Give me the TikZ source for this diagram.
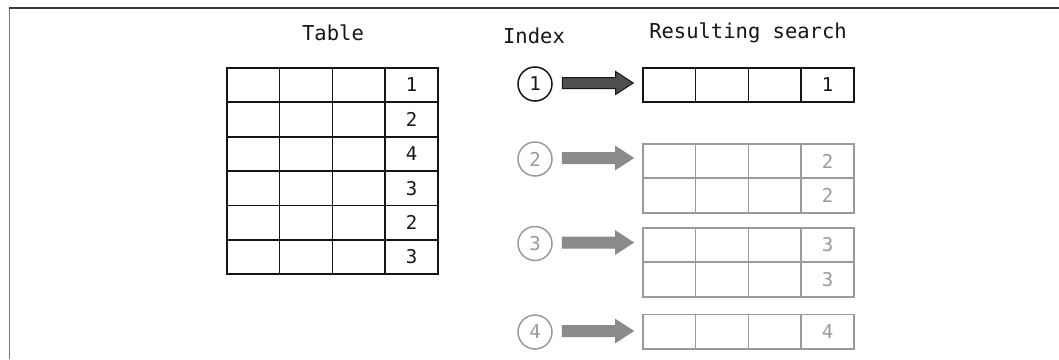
\documentclass[tikz,border=0pt]{standalone}
\usepackage{fontspec}
\newfontfamily\mono{DejaVu Sans Mono}
\usetikzlibrary{shapes.arrows,calc}
\definecolor{lightline}{HTML}{9A9A9A}
\definecolor{darkline}{HTML}{151515}
\definecolor{greyarrow}{HTML}{8A8A8A}
\definecolor{darkarrow}{HTML}{4F4F4F}
\definecolor{frametop}{HTML}{3A3A3A}
\definecolor{frameleft}{HTML}{7A7A7A}
\begin{document}
\begin{tikzpicture}[x=1pt,y=-1pt,
  cell/.style={draw=#1, text=#1, line width=1.7pt, minimum width=52.75pt,
    minimum height=34.4pt, inner sep=0pt, anchor=north west,
    font=\mono\fontsize{19}{19}\selectfont},
  title/.style={font=\mono\fontsize{20.5}{20.5}\selectfont, text=darkline, inner sep=0pt},
  idx/.style={circle, draw=#1, text=#1, line width=1.5pt, minimum size=34pt,
    inner sep=0pt, font=\mono\fontsize{19}{19}\selectfont},
  harrow/.style 2 args={single arrow, draw=#1, fill=#2, line width=1pt,
    minimum height=71pt, minimum width=22pt, inner xsep=0pt, inner ysep=5pt,
    single arrow head extend=6pt, single arrow tip angle=66, anchor=tail}
]
\useasboundingbox (0,0) rectangle (1059,359);
% frame
\draw[frameleft, line width=1.6pt] (9.5,359) -- (9.5,8);
\draw[frametop, line width=1.6pt] (8.7,8) -- (1059,8);

% titles
\node[title] (ttable) at (333,33) {Table};
\node[title] (tindex) at (534,36) {Index};
\node[title] (tres) at (748,33) {Resulting search};

% table
\foreach \v [count=\r from 0] in {1,2,4,3,2,3} {
  \foreach \c in {0,1,2} {
    \node[cell=darkline] (t-\r-\c) at ({226+\c*52.75},{67+\r*34.4}) {};
  }
  \node[cell=darkline] (t-\r-3) at ({226+3*52.75},{67+\r*34.4}) {\v};
}

% result rows: name, top y, value
\foreach \n/\ty/\v/\col in {a/67/1/darkline, b1/143/2/lightline, b2/177.4/2/lightline,
    c1/227/3/lightline, c2/261.4/3/lightline, d/313.5/4/lightline} {
  \foreach \c in {0,1,2} {
    \node[cell=\col] (r-\n-\c) at ({642+\c*52.75},\ty) {};
  }
  \node[cell=\col] (r-\n-3) at ({642+3*52.75},\ty) {\v};
}

% index circles
\node[idx=darkline] (i1) at (535,84) {1};
\node[idx=lightline] (i2) at (535,159) {2};
\node[idx=lightline] (i3) at (535,243.5) {3};
\node[idx=lightline] (i4) at (535,332) {4};

% arrows from index to resulting rows
\node[harrow={darkline}{darkarrow}] (a1) at ($(i1.east)+(9,-1)$) {};
\node[harrow={greyarrow}{greyarrow}] (a2) at ($(i2.east)+(9,-1)$) {};
\node[harrow={greyarrow}{greyarrow}] (a3) at ($(i3.east)+(9,-1)$) {};
\node[harrow={greyarrow}{greyarrow}] (a4) at ($(i4.east)+(9,-1)$) {};
\end{tikzpicture}
\end{document}
